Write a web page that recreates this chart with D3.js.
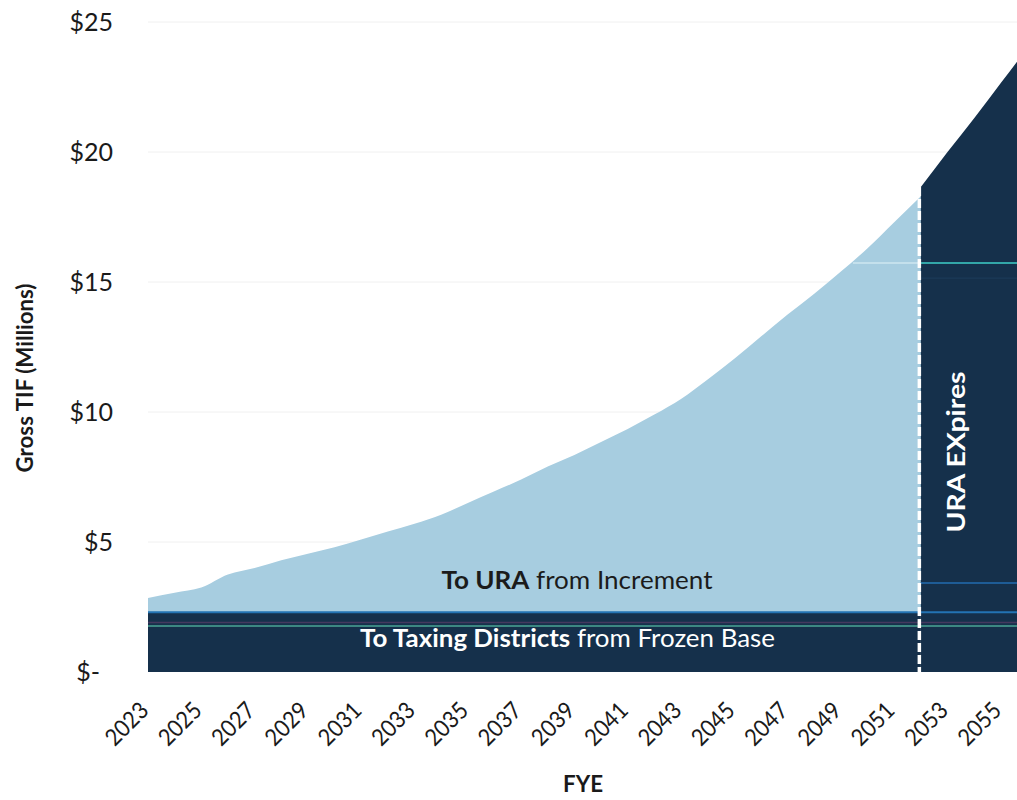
<!DOCTYPE html>
<html>
<head>
<meta charset="utf-8">
<script src="https://cdn.jsdelivr.net/npm/d3@7"></script>
<style>
  html, body { margin: 0; padding: 0; background: #fff; }
  svg { display: block; font-family: Lato, "Open Sans", sans-serif; }
</style>
</head>
<body>
<svg id="chart" width="1017" height="800"></svg>
<script>
// ---- data (values in $ millions) ----
const years = [2023,2024,2025,2026,2027,2028,2029,2030,2031,2032,2033,2034,2035,2036,2037,
               2038,2039,2040,2041,2042,2043,2044,2045,2046,2047,2048,2049,2050,2051,2052];
const grossTIF = [2.85,3.05,3.25,3.75,4.0,4.3,4.55,4.8,5.1,5.4,5.7,6.05,6.5,6.95,7.4,
                  7.9,8.35,8.85,9.35,9.9,10.5,11.25,12.05,12.9,13.75,14.55,15.4,16.3,17.3,18.3];
const frozenBase = 2.3;
const baseLayerTops = [1.77, 1.9];          // inner layer boundaries inside frozen base
const postYears = [2052,2053,2054,2055,2056];
const postTIF = [18.65,20.0,21.3,22.65,24.0];
const postLayerTops = [3.42, 15.15, 15.73]; // faint layer boundaries after expiry
const expiryYear = 2052;
const yTicks = [0,5,10,15,20,25];
const yTickLabels = ["$-","$5","$10","$15","$20","$25"];
const xTickYears = [2023,2025,2027,2029,2031,2033,2035,2037,2039,2041,2043,2045,2047,2049,2051,2053,2055];

const svg = d3.select("#chart");
const x = d3.scaleLinear().domain([2023, 2056]).range([148, 148 + 33*26.65]);
const y = d3.scaleLinear().domain([0, 25]).range([672, 22]);
const W = 1017;

const lightBlue = "#a7cde0", navy = "#15304b";

// gridlines
svg.append("g").selectAll("line").data(yTicks.slice(1)).join("line")
  .attr("x1", 148).attr("x2", W).attr("y1", d => y(d)).attr("y2", d => y(d))
  .attr("stroke", "#f0f0f0").attr("stroke-width", 1);

const preData = years.map((yr, i) => ({yr, v: grossTIF[i]}));
const postData = postYears.map((yr, i) => ({yr, v: postTIF[i]}));

// URA increment area (light)
svg.append("path").datum(preData)
  .attr("fill", lightBlue)
  .attr("d", d3.area().curve(d3.curveMonotoneX)
    .x(d => x(d.yr)).y0(y(frozenBase)).y1(d => y(d.v)));

// frozen base band (dark)
svg.append("path").datum(preData)
  .attr("fill", navy)
  .attr("d", d3.area().x(d => x(d.yr)).y0(y(0)).y1(y(frozenBase)));

// post-expiry area (dark)
svg.append("path").datum(postData)
  .attr("fill", navy)
  .attr("d", d3.area().curve(d3.curveMonotoneX)
    .x(d => x(d.yr)).y0(y(0)).y1(d => y(d.v)));

// layer boundary lines inside base band
const lineG = svg.append("g");
lineG.append("line").attr("x1", x(2023)).attr("x2", W)
  .attr("y1", y(frozenBase)).attr("y2", y(frozenBase))
  .attr("stroke", "#2373b3").attr("stroke-width", 2);
lineG.append("line").attr("x1", x(2023)).attr("x2", W)
  .attr("y1", y(baseLayerTops[1])).attr("y2", y(baseLayerTops[1]))
  .attr("stroke", "#45385f").attr("stroke-width", 1.5);
lineG.append("line").attr("x1", x(2023)).attr("x2", W)
  .attr("y1", y(baseLayerTops[0])).attr("y2", y(baseLayerTops[0]))
  .attr("stroke", "#4aa595").attr("stroke-width", 1.5);
// post expiry layer lines
lineG.append("line").attr("x1", x(expiryYear)).attr("x2", W)
  .attr("y1", y(postLayerTops[0])).attr("y2", y(postLayerTops[0]))
  .attr("stroke", "#1e5c96").attr("stroke-width", 2);
lineG.append("line").attr("x1", x(expiryYear)).attr("x2", W)
  .attr("y1", y(postLayerTops[1])).attr("y2", y(postLayerTops[1]))
  .attr("stroke", "#1d3d5c").attr("stroke-width", 1);
lineG.append("line").attr("x1", x(expiryYear)).attr("x2", W)
  .attr("y1", y(postLayerTops[2])).attr("y2", y(postLayerTops[2]))
  .attr("stroke", "#33a6a8").attr("stroke-width", 2);
lineG.append("line").attr("x1", x(2049.45)).attr("x2", x(expiryYear))
  .attr("y1", y(postLayerTops[2])).attr("y2", y(postLayerTops[2]))
  .attr("stroke", "#c4e0ec").attr("stroke-width", 2);

// dashed expiry line
svg.append("line")
  .attr("x1", x(expiryYear) - 1.5).attr("x2", x(expiryYear) - 1.5)
  .attr("y1", y(postTIF[0])).attr("y2", y(0))
  .attr("stroke", "#ffffff").attr("stroke-width", 3.5)
  .attr("stroke-dasharray", "9,3");

// y tick labels
const yAx = svg.append("g").attr("fill", "#1a1a1a");
yTicks.forEach((t, i) => {
  yAx.append("text")
    .attr("x", t === 0 ? 100 : 113)
    .attr("y", y(t))
    .attr("dy", "0.36em")
    .attr("text-anchor", "end")
    .attr("font-size", 25)
    .text(yTickLabels[i]);
});

// x tick labels
const xAx = svg.append("g").attr("fill", "#1a1a1a");
xTickYears.forEach(yr => {
  xAx.append("text")
    .attr("transform", `translate(${x(yr) + 2},712) rotate(-45)`)
    .attr("text-anchor", "end")
    .attr("font-size", 23.5)
    .attr("textLength", 50).attr("lengthAdjust", "spacingAndGlyphs")
    .text(yr);
});

// axis titles
svg.append("text")
  .attr("transform", "translate(33,378) rotate(-90)")
  .attr("text-anchor", "middle")
  .attr("font-weight", "bold").attr("font-size", 23).attr("fill", "#1a1a1a")
  .attr("textLength", 189).attr("lengthAdjust", "spacingAndGlyphs")
  .text("Gross TIF (Millions)");

svg.append("text")
  .attr("x", 583).attr("y", 792)
  .attr("text-anchor", "middle")
  .attr("font-weight", "bold").attr("font-size", 22).attr("fill", "#1a1a1a")
  .attr("textLength", 40).attr("lengthAdjust", "spacingAndGlyphs")
  .text("FYE");

// in-chart labels
const uraLabel = svg.append("text")
  .attr("x", 577).attr("y", 589)
  .attr("text-anchor", "middle")
  .attr("font-size", 24.5).attr("fill", "#1b1b1b")
  .attr("textLength", 271).attr("lengthAdjust", "spacingAndGlyphs");
uraLabel.append("tspan").attr("font-weight", "bold").text("To URA");
uraLabel.append("tspan").text(" from Increment");

const baseLabel = svg.append("text")
  .attr("x", 567.5).attr("y", 647)
  .attr("text-anchor", "middle")
  .attr("font-size", 24.5).attr("fill", "#ffffff")
  .attr("textLength", 415).attr("lengthAdjust", "spacingAndGlyphs");
baseLabel.append("tspan").attr("font-weight", "bold").text("To Taxing Districts");
baseLabel.append("tspan").text(" from Frozen Base");

svg.append("text")
  .attr("transform", "translate(965,452) rotate(-90)")
  .attr("text-anchor", "middle")
  .attr("font-size", 24).attr("font-weight", "bold").attr("fill", "#ffffff")
  .attr("textLength", 161).attr("lengthAdjust", "spacingAndGlyphs")
  .text("URA EXpires");
</script>
</body>
</html>
